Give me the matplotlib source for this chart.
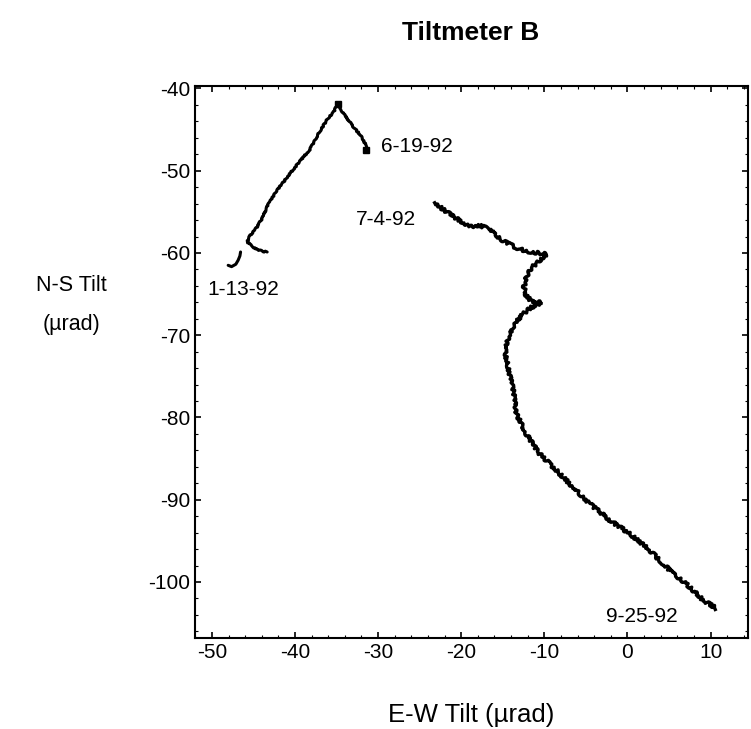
import matplotlib
matplotlib.use("Agg")
import matplotlib.pyplot as plt
from matplotlib.ticker import MultipleLocator

plt.rcParams['font.family'] = ['Liberation Sans', 'DejaVu Sans']
plt.rcParams['axes.unicode_minus'] = False

# Jan - Jun 1992 track, start hook (1-13-92)
ew_start = [-48.04, -47.63, -47.12, -46.84, -46.63, -46.55]
ns_start = [-61.50, -61.66, -61.37, -60.88, -60.36, -59.88]

# Jan - Jun 1992 track, main part up to 6-19-92
ew_spring = [-43.35, -44.03, -44.63, -45.23, -45.76, -45.43, -44.63, -44.03,
             -43.23, -42.22, -41.02, -39.42, -38.22, -37.02, -36.02, -35.42,
             -35.01, -34.82, -34.22, -33.02, -32.01, -31.49, -31.41]
ns_spring = [-59.88, -59.76, -59.55, -59.15, -58.63, -57.94, -56.93, -55.92,
             -54.10, -52.48, -50.87, -48.85, -47.43, -45.21, -43.60, -42.99,
             -42.18, -41.90, -42.99, -44.61, -45.82, -46.82, -47.43]

# Jul - Sep 1992 track (7-4-92 to 9-25-92)
ew_summer = [-23.20, -22.20, -21.00, -19.80, -18.79, -17.58, -16.59, -15.78,
             -14.58, -13.38, -12.18, -10.97, -9.77, -10.58, -11.57, -12.18,
             -12.46, -12.18, -11.38, -10.37, -11.57, -12.58, -13.58, -14.18,
             -14.58, -14.66, -14.39, -13.98, -13.58, -13.38, -12.18, -10.58,
             -8.57, -6.57, -4.57, -2.16, 0.24, 2.64, 5.05, 7.45, 9.05, 10.66]
ns_summer = [-53.90, -54.70, -55.52, -56.33, -56.73, -56.73, -57.13, -57.94,
             -58.75, -59.36, -59.76, -59.96, -60.16, -60.97, -61.78, -62.99,
             -64.21, -65.21, -66.02, -66.02, -66.63, -67.43, -68.64, -69.85,
             -71.07, -72.28, -73.90, -75.52, -77.54, -79.55, -81.98, -84.40,
             -86.42, -88.45, -90.46, -92.48, -94.10, -96.12, -98.55, -100.57,
             -102.18, -103.19]

date_labels = ["1-13-92", "6-19-92", "7-4-92", "9-25-92"]
date_x = [-50.5, -29.7, -32.7, -2.6]
date_y = [-64.5, -47.0, -55.9, -104.2]

fig = plt.figure(figsize=(7.51, 7.29), dpi=100)
ax = fig.add_axes([0.260, 0.125, 0.736, 0.757])

ax.plot(ew_start, ns_start, color="black", lw=2.2, solid_capstyle="round")
spring, = ax.plot(ew_spring, ns_spring, color="black", lw=2.2,
                  solid_capstyle="round", marker="s", ms=5,
                  markevery=[17, 22])
spring.set_sketch_params(scale=0.6, length=4, randomness=4)
summer, = ax.plot(ew_summer, ns_summer, color="black", lw=2.4)
summer.set_sketch_params(scale=1.6, length=4, randomness=6)

for lab, x, y in zip(date_labels, date_x, date_y):
    ax.text(x, y, lab, fontsize=15, ha="left", va="center")

ax.set_xlim(-52.0, 14.5)
ax.set_ylim(-106.8, -39.7)
ax.xaxis.set_major_locator(MultipleLocator(10))
ax.xaxis.set_minor_locator(MultipleLocator(2))
ax.yaxis.set_major_locator(MultipleLocator(10))
ax.yaxis.set_minor_locator(MultipleLocator(2))
ax.tick_params(which="both", direction="in", top=True, right=True, labelsize=15)
ax.tick_params(which="major", length=4, width=1.2)
ax.tick_params(which="minor", length=2, width=0.8)
for s in ax.spines.values():
    s.set_linewidth(1.5)

ax.set_xlabel("E-W Tilt (µrad)", fontsize=18.5, labelpad=30)
fig.text(0.095, 0.582, "N-S Tilt\n(µrad)", fontsize=15.5, ha="center",
         va="center", linespacing=2.1)
fig.text(0.626, 0.955, "Tiltmeter B", fontsize=19, fontweight="bold",
         ha="center", va="center")

fig.savefig("out.png", dpi=100)
